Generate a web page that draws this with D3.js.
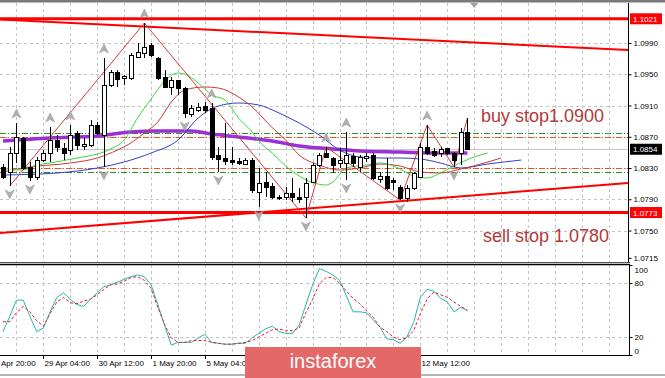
<!DOCTYPE html>
<html>
<head>
<meta charset="utf-8">
<script src="https://cdn.jsdelivr.net/npm/d3@7/dist/d3.min.js"></script>
<style>
  body { margin: 0; background: #fff; }
  svg { display: block; font-family: "Liberation Sans", Arial, sans-serif; }
</style>
</head>
<body>
<svg id="chart" width="665" height="378"></svg>
<script>
// H4 candles, index 0 = 28 Apr 04:00
const opens  = [1.08313,1.08249,1.08492,1.08684,1.08313,1.08185,1.08402,1.08492,1.08658,1.08556,
                1.08530,1.08748,1.08582,1.08594,1.08850,1.08722,1.09362,1.09529,1.09452,1.09452,
                1.09721,1.09772,1.09874,1.09708,1.09465,1.09337,1.09426,1.09324,1.08991,1.09042,
                1.09094,1.09068,1.08466,1.08428,1.08402,1.08390,1.08351,1.08402,1.07993,1.08121,
                1.08070,1.07929,1.07929,1.07980,1.07929,1.07929,1.08121,1.08338,1.08492,1.08428,
                1.08364,1.08364,1.08454,1.08313,1.08428,1.08466,1.08159,1.08198,1.08146,1.08057,
                1.07916,1.08044,1.08185,1.08569,1.08518,1.08492,1.08556,1.08492,1.08492,1.08761];
const highs  = [1.08351,1.08569,1.08876,1.08697,1.08377,1.08441,1.08530,1.08825,1.08722,1.08620,
                1.08850,1.08774,1.08684,1.08914,1.08889,1.09708,1.09554,1.09554,1.09490,1.09772,
                1.09900,1.10156,1.09900,1.09721,1.09554,1.09465,1.09426,1.09337,1.09106,1.09132,
                1.09145,1.09132,1.08569,1.08876,1.08569,1.08428,1.08428,1.08428,1.08300,1.08249,
                1.08108,1.07954,1.08057,1.08172,1.08044,1.08172,1.08364,1.08492,1.08569,1.08441,
                1.08556,1.08761,1.08492,1.08466,1.08492,1.08492,1.08249,1.08428,1.08172,1.08082,
                1.08082,1.08249,1.08620,1.08850,1.08556,1.08569,1.08556,1.08505,1.08812,1.08940];
const lows   = [1.08159,1.08070,1.08364,1.08274,1.08134,1.08146,1.08377,1.08377,1.08505,1.08402,
                1.08466,1.08530,1.08530,1.08569,1.08722,1.08313,1.09337,1.09337,1.09362,1.09426,
                1.09708,1.09708,1.09721,1.09426,1.09324,1.09234,1.09234,1.08940,1.08953,1.09017,
                1.09004,1.08402,1.08249,1.08338,1.08338,1.08338,1.08338,1.07980,1.07801,1.07929,
                1.07903,1.07890,1.07890,1.07865,1.07852,1.07660,1.08108,1.08313,1.08428,1.08236,
                1.08300,1.08146,1.08313,1.08249,1.08377,1.08146,1.08108,1.08018,1.08018,1.07890,
                1.07865,1.08018,1.08172,1.08466,1.08441,1.08441,1.08466,1.08313,1.08338,1.08530];
const closes = [1.08185,1.08492,1.08697,1.08300,1.08185,1.08402,1.08492,1.08658,1.08569,1.08492,
                1.08722,1.08594,1.08607,1.08850,1.08748,1.09362,1.09529,1.09439,1.09478,1.09746,
                1.09785,1.09849,1.09746,1.09452,1.09337,1.09426,1.09324,1.09004,1.09068,1.09081,
                1.09042,1.08441,1.08415,1.08390,1.08377,1.08364,1.08402,1.08018,1.08108,1.08057,
                1.07929,1.07916,1.07980,1.07929,1.07903,1.08108,1.08338,1.08466,1.08441,1.08338,
                1.08402,1.08466,1.08364,1.08441,1.08454,1.08172,1.08198,1.08044,1.08121,1.07916,
                1.08044,1.08236,1.08569,1.08492,1.08466,1.08543,1.08492,1.08402,1.08761,1.08543];

// stochastic oscillator
const stochMain   = [26,43,61,61,43,26,30,48,64,69,62,56,54,62,69,76,78,81,84,87,
                     89,87,78,56,33,11,14,14,14,19,23,14,13,12,12,13,13,19,24,29,
                     32,26,24,24,33,56,78,96,93,89,83,66,48,48,47,39,31,18,17,13,
                     20,36,64,73,71,63,59,48,53,49];
const stochSignal = [37,37,47,54,48,38,32,46,59,64,58,57,60,62,67,73,78,79,82,86,
                     87,83,74,53,34,19,14,14,16,16,16,14,13,12,12,13,14,16,20,24,
                     28,29,27,27,30,47,62,79,86,86,80,71,63,57,49,42,31,26,20,17,
                     19,27,46,62,70,67,64,59,54,50];

// moving averages (candle index, price)
const maIdx   = [0,7,14,19,23,28,31,35,40,44,49,53,59,65,69];
const maVal   = [1.08646,1.08684,1.08710,1.08761,1.08774,1.08774,1.08735,1.08697,1.08646,1.08582,1.08543,1.08518,1.08505,1.08492,1.08492];
const jawIdx  = [0,8,14,18,22,26,29,32,35,38,41,44,47,50,53,56,59,62,65,68,72,77];
const jawVal  = [1.08210,1.08236,1.08300,1.08377,1.08492,1.08658,1.08940,1.09094,1.09132,1.09106,1.09004,1.08876,1.08722,1.08530,1.08441,1.08428,1.08428,1.08415,1.08364,1.08300,1.08351,1.08402];
const teethIdx = [0,4,10,14,17,19,21,23,25,27,30,32,35,37,40,42,44,47,50,53,56,59,62,65,68,71,74];
const teethVal = [1.08249,1.08313,1.08364,1.08428,1.08530,1.08620,1.08748,1.08889,1.09145,1.09298,1.09337,1.09324,1.09209,1.09081,1.08816,1.08658,1.08466,1.08338,1.08274,1.08300,1.08351,1.08325,1.08249,1.08236,1.08287,1.08351,1.08428];
const lipsIdx = [0,3,5,7,11,14,16,18,20,22,24,26,27,29,31,33,35,37,38,40,42,44,46,48,49,51,54,56,58,59,61,63,65,67,70,72];
const lipsVal = [1.08292,1.08274,1.08338,1.08364,1.08428,1.08479,1.08543,1.08658,1.08940,1.09183,1.09414,1.09516,1.09503,1.09388,1.09234,1.09170,1.08940,1.08761,1.08646,1.08492,1.08326,1.08198,1.08114,1.08082,1.08121,1.08300,1.08338,1.08364,1.08326,1.08287,1.08198,1.08172,1.08236,1.08326,1.08441,1.08492];

// zigzag turning points
const zigIdx = [1,21,45,48,59,63,67,69];
const zigVal = [1.08070,1.10156,1.07660,1.08569,1.07890,1.08850,1.08313,1.08940];

// fractals
const fractalUp   = [2,7,10,15,21,31,48,51,63];
const fractalDown = [1,4,15,27,32,38,45,51,59,67];

// levels and trend lines
const redLevels   = [1.1021, 1.0773];
const trendIdx    = [-0.45, 92.9];
const upperTrend  = [1.10201, 1.09810];
const lowerTrend  = [1.07468, 1.08108];
const orderLevels = [1.0875, 1.0870, 1.0830, 1.0825];
const orderColors = ["#2f8f2f", "#e8581e", "#e8581e", "#2f8f2f"];
const lastPrice   = 1.0854;

// axes (labels hidden under the logo are left out)
const priceTicks = [1.0990, 1.0950, 1.0910, 1.0870, 1.0830, 1.0790, 1.0750, 1.0715];
const priceGrid  = [1.0990, 1.0950, 1.0910, 1.0870, 1.0830, 1.0790, 1.0750, 1.0710];
const stochTicks = [100, 80, 20, 0];
const timeIdx    = [6, 14, 22, 30, 62];
const timeLabels = ["29 Apr 04:00","30 Apr 12:00","1 May 20:00","5 May 04:00","12 May 12:00"];
const firstLabel = "Apr 20:00";

const svg = d3.select("#chart");
const W = 628;

let x = d3.scaleLinear().domain([0, 93]).range([3, 629]);
let y = d3.scaleLinear().domain([1.0990, 1.0830]).range([43, 168]);
let ys = d3.scaleLinear().domain([0, 100]).range([355, 265]);

svg.append("defs").append("clipPath").attr("id", "mainClip")
  .append("rect").attr("x", 0).attr("y", 3).attr("width", W).attr("height", 259);
svg.select("defs").append("clipPath").attr("id", "stochClip")
  .append("rect").attr("x", 0).attr("y", 265).attr("width", W).attr("height", 90);

// window frame
svg.append("rect").attr("x", 0).attr("y", 0).attr("width", 665).attr("height", 2.5).attr("fill", "#7a7a7a");
svg.append("rect").attr("x", 0).attr("y", 374).attr("width", 665).attr("height", 2).attr("fill", "#b4b4b4");

// grid
let vGrid = d3.range(2, 93, 4);
let grid = svg.append("g").attr("stroke", "#c4c4c4").attr("stroke-dasharray", "3,3").attr("stroke-width", 1);
vGrid.forEach(function (i) {
  let xp = Math.round(x(i)) + 0.5;
  grid.append("line").attr("x1", xp).attr("x2", xp).attr("y1", 3).attr("y2", 262);
  grid.append("line").attr("x1", xp).attr("x2", xp).attr("y1", 265).attr("y2", 354);
});
priceGrid.forEach(function (p) {
  let yp = Math.round(y(p)) + 0.5;
  grid.append("line").attr("x1", 0).attr("x2", W).attr("y1", yp).attr("y2", yp);
});
[80, 20].forEach(function (v) {
  let yp = Math.round(ys(v)) + 0.5;
  grid.append("line").attr("x1", 0).attr("x2", W).attr("y1", yp).attr("y2", yp);
});

let main = svg.append("g").attr("clip-path", "url(#mainClip)");

// order levels
orderLevels.forEach(function (p, k) {
  main.append("line")
    .attr("x1", 0).attr("x2", W)
    .attr("y1", Math.round(y(p)) + 0.5).attr("y2", Math.round(y(p)) + 0.5)
    .attr("stroke", orderColors[k]).attr("stroke-width", 1)
    .attr("stroke-dasharray", "6,2,1,2");
});
main.append("line").attr("x1", 0).attr("x2", W)
  .attr("y1", Math.round(y(lastPrice)) + 0.5).attr("y2", Math.round(y(lastPrice)) + 0.5)
  .attr("stroke", "#c8c8c8");

// channel
redLevels.forEach(function (p) {
  main.append("line").attr("x1", 0).attr("x2", W).attr("y1", y(p)).attr("y2", y(p))
    .attr("stroke", "#ff0000").attr("stroke-width", 3);
});
[upperTrend, lowerTrend].forEach(function (t) {
  main.append("line")
    .attr("x1", x(trendIdx[0])).attr("x2", x(trendIdx[1]))
    .attr("y1", y(t[0])).attr("y2", y(t[1]))
    .attr("stroke", "#ff0000").attr("stroke-width", 2);
});

// purple MA
let line = d3.line().x(function (d) { return x(d[0]); }).y(function (d) { return y(d[1]); }).curve(d3.curveMonotoneX);
main.append("path").datum(d3.zip(maIdx, maVal)).attr("d", line)
  .attr("fill", "none").attr("stroke", "#9b30d6").attr("stroke-width", 3.5);

// alligator
[[jawIdx, jawVal, "#2f3fc4"], [teethIdx, teethVal, "#c83a3a"], [lipsIdx, lipsVal, "#3ed23e"]].forEach(function (a) {
  main.append("path").datum(d3.zip(a[0], a[1])).attr("d", line)
    .attr("fill", "none").attr("stroke", a[2]).attr("stroke-width", 1);
});

// zigzag
main.append("path").datum(d3.zip(zigIdx, zigVal))
  .attr("d", d3.line().x(function (d) { return x(d[0]); }).y(function (d) { return y(d[1]); }))
  .attr("fill", "none").attr("stroke", "#d23c3c").attr("stroke-width", 1);

// candles
let candles = main.append("g");
opens.forEach(function (o, i) {
  let cx = Math.round(x(i)) + 0.5;
  let c = closes[i];
  candles.append("line").attr("x1", cx).attr("x2", cx)
    .attr("y1", y(highs[i])).attr("y2", y(lows[i])).attr("stroke", "#000");
  let top = Math.round(y(Math.max(o, c))) + 0.5;
  let bot = Math.round(y(Math.min(o, c))) + 0.5;
  candles.append("rect")
    .attr("x", cx - 2).attr("y", top)
    .attr("width", 4).attr("height", Math.max(1, bot - top))
    .attr("fill", c >= o ? "#fff" : "#000").attr("stroke", "#000");
});

// fractal arrows
fractalUp.forEach(function (i) {
  main.append("path").attr("d", "M0,-5L4.5,4L0,1.5L-4.5,4Z")
    .attr("transform", `translate(${x(i)},${y(highs[i]) - 9})`)
    .attr("fill", "#b0b0b0").attr("stroke", "#959595").attr("stroke-width", 0.5);
});
fractalDown.forEach(function (i) {
  main.append("path").attr("d", "M0,5L4.5,-4L0,-1.5L-4.5,-4Z")
    .attr("transform", `translate(${x(i)},${y(lows[i]) + 8})`)
    .attr("fill", "#b0b0b0").attr("stroke", "#959595").attr("stroke-width", 0.5);
});

// chart shift marker
svg.append("path").attr("d", "M-4,0L4,0L0,5Z").attr("transform", `translate(${x(70)},3)`).attr("fill", "#a0a0a0");

// annotations
svg.append("text").attr("x", 481).attr("y", 122).attr("font-size", 18).attr("fill", "#b23a3a").text("buy stop1.0900");
svg.append("text").attr("x", 483).attr("y", 242).attr("font-size", 18).attr("fill", "#b23a3a").text("sell stop 1.0780");

// stochastic
let stoch = svg.append("g").attr("clip-path", "url(#stochClip)");
let sline = d3.line().x(function (d, i) { return x(i); }).y(function (d) { return ys(d); });
stoch.append("path").datum(stochMain).attr("d", sline)
  .attr("fill", "none").attr("stroke", "#2bb5a8").attr("stroke-width", 1);
stoch.append("path").datum(stochSignal).attr("d", sline)
  .attr("fill", "none").attr("stroke", "#dc2040").attr("stroke-width", 1).attr("stroke-dasharray", "3,2");

// panel borders
svg.append("line").attr("x1", 0).attr("x2", W + 2).attr("y1", 262.5).attr("y2", 262.5).attr("stroke", "#555");
svg.append("line").attr("x1", 0).attr("x2", W + 2).attr("y1", 264.5).attr("y2", 264.5).attr("stroke", "#000").attr("stroke-width", 1.5);
svg.append("line").attr("x1", 0).attr("x2", W + 2).attr("y1", 355.5).attr("y2", 355.5).attr("stroke", "#000");
svg.append("line").attr("x1", W + 0.5).attr("x2", W + 0.5).attr("y1", 3).attr("y2", 262).attr("stroke", "#000");
svg.append("line").attr("x1", W + 1.5).attr("x2", W + 1.5).attr("y1", 264).attr("y2", 356).attr("stroke", "#000");

// price axis
let yAxis = svg.append("g").attr("transform", `translate(${W + 0.5},0)`)
  .call(d3.axisRight(y).tickValues(priceTicks).tickSize(3).tickPadding(2).tickFormat(d3.format(".4f")));
yAxis.select(".domain").remove();
yAxis.selectAll("text").attr("font-size", 8).attr("font-family", "Liberation Sans, Arial, sans-serif").attr("fill", "#000");

// stochastic axis
let sAxis = svg.append("g").attr("transform", `translate(${W + 1.5},0)`)
  .call(d3.axisRight(ys).tickValues(stochTicks).tickSize(3).tickPadding(2));
sAxis.select(".domain").remove();
sAxis.selectAll("text").attr("font-size", 8).attr("font-family", "Liberation Sans, Arial, sans-serif").attr("fill", "#000")
  .attr("dy", function (d) { return d === 100 ? "0.95em" : d === 0 ? "-0.2em" : "0.32em"; });

// value boxes
function valueBox(p, bg) {
  let yp = y(p);
  svg.append("rect").attr("x", W + 2).attr("y", yp - 5.5).attr("width", 32).attr("height", 11).attr("fill", bg);
  svg.append("text").attr("x", W + 5).attr("y", yp + 3).attr("font-size", 8).attr("fill", "#fff").text(d3.format(".4f")(p));
}
redLevels.forEach(function (p) { valueBox(p, "#ff0000"); });
valueBox(lastPrice, "#000");

// time axis
svg.append("text").attr("x", 1).attr("y", 366).attr("font-size", 8).attr("fill", "#000").text(firstLabel);
timeIdx.forEach(function (i, k) {
  let xp = Math.round(x(i)) + 0.5;
  svg.append("line").attr("x1", xp).attr("x2", xp).attr("y1", 356).attr("y2", 359).attr("stroke", "#000");
  svg.append("text").attr("x", xp + 1).attr("y", 366).attr("font-size", 8).attr("fill", "#000").text(timeLabels[k]);
});

// logo
svg.append("rect").attr("x", 245).attr("y", 347).attr("width", 176).attr("height", 31).attr("fill", "#e46868");
svg.append("text").attr("x", 333).attr("y", 368).attr("text-anchor", "middle")
  .attr("font-size", 20).attr("fill", "#fff").text("instaforex");
</script>
</body>
</html>
